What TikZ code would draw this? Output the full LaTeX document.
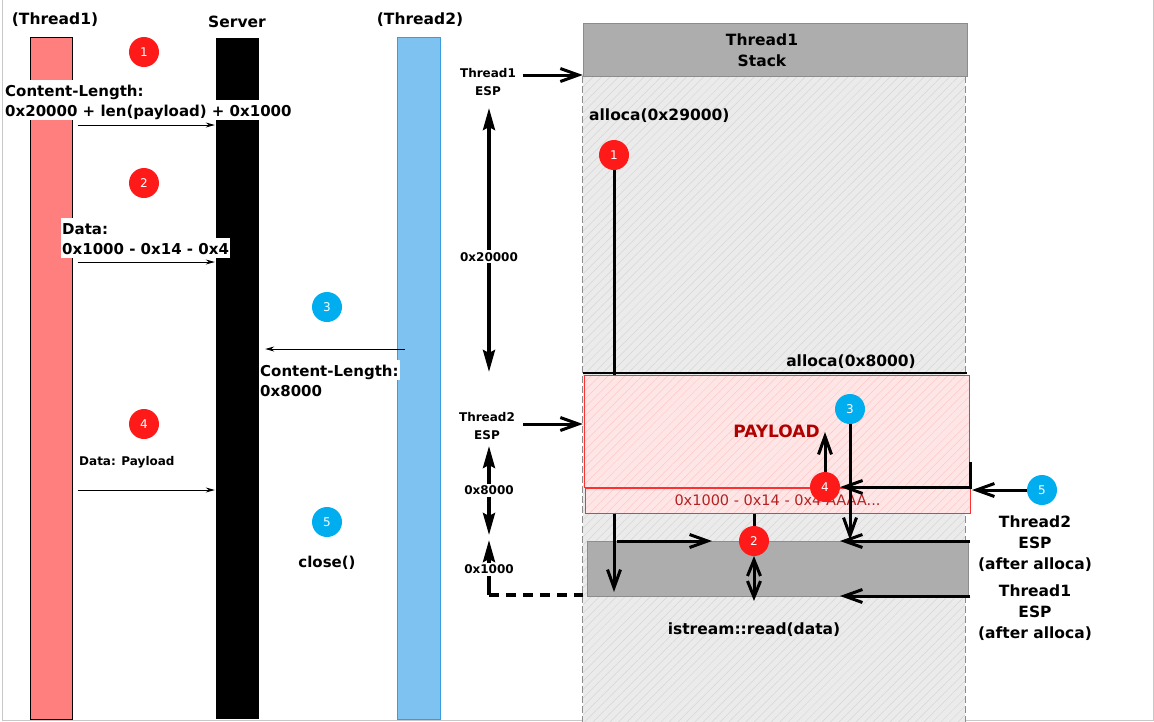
\documentclass[tikz,border=0pt]{standalone}
\usepackage{fontspec}
\setmainfont{DejaVu Sans}
\usetikzlibrary{arrows.meta,patterns.meta}
\definecolor{t1red}{HTML}{FF7F7F}
\definecolor{t2blue}{HTML}{7DC2F1}
\definecolor{t2border}{HTML}{3A9DDB}
\definecolor{circred}{HTML}{FF1A1A}
\definecolor{circblue}{HTML}{00AEEF}
\definecolor{hdrgray}{HTML}{ADADAD}
\definecolor{hdrborder}{HTML}{8C8C8C}
\definecolor{stackbg}{HTML}{EBEBEB}
\definecolor{hatchgray}{HTML}{D6D6D6}
\definecolor{pinkbg}{HTML}{FFE6E6}
\definecolor{pinkhatch}{HTML}{FFC6C6}
\definecolor{pinkborder}{HTML}{FF3030}
\definecolor{darkred}{HTML}{B00000}
\definecolor{aaared}{HTML}{B22222}
\definecolor{framegray}{HTML}{C8C8C8}
\setlength{\fboxsep}{0pt}
\newcommand\whitebg[1]{\colorbox{white}{\kern1pt\rule[-4pt]{0pt}{20pt}#1\kern1pt}}
\begin{document}
\begin{tikzpicture}[x=1pt,y=-1pt,
  bfbig/.style={font=\bfseries\fontsize{15}{20}\selectfont, inner sep=0pt},
  bfmid/.style={font=\bfseries\fontsize{15.5}{21}\selectfont, inner sep=0pt},
  bfsmall/.style={font=\bfseries\fontsize{12}{18}\selectfont, inner sep=0pt},
  redc/.style={circle, fill=circred, text=white, minimum size=30pt, inner sep=0pt, font=\fontsize{12}{14}\selectfont},
  bluec/.style={redc, fill=circblue},
  thinarr/.style={line width=1pt, -{Stealth[length=9pt,width=5pt]}},
  bigarr/.style={line width=3pt, -{Straight Barb[length=18pt,width=13pt]}},
  bigline/.style={line width=3pt},
  dimarr/.style={line width=3.5pt, {Stealth[length=22pt,width=12pt,inset=3pt]}-{Stealth[length=22pt,width=12pt,inset=3pt]}},
  hatched/.style={preaction={fill=stackbg}, pattern={Lines[angle=45,distance=6pt,line width=0.5pt]}, pattern color=hatchgray},
  pinkhatched/.style={preaction={fill=pinkbg}, pattern={Lines[angle=45,distance=6pt,line width=0.5pt]}, pattern color=pinkhatch},
  graybox/.style={rectangle, fill=hdrgray, draw=hdrborder, line width=1pt, inner sep=0pt}
]
\useasboundingbox (0,0) rectangle (1154,721);
% frame
\draw[framegray, line width=1pt] (2.5,0) -- (2.5,720) -- (1153,720) -- (1153,0);

% ---------- sequence part ----------
\node[rectangle, fill=t1red, draw=black, line width=1pt, minimum width=42pt, minimum height=682pt, inner sep=0pt] (t1) at (51,378) {};
\node[rectangle, fill=black, minimum width=43pt, minimum height=681pt, inner sep=0pt] (srv) at (237.5,378.5) {};
\node[rectangle, fill=t2blue, draw=t2border, line width=1pt, minimum width=43pt, minimum height=682pt, inner sep=0pt] (t2) at (418.5,378) {};

\node[bfmid] (h1) at (55,20) {(Thread1)};
\node[bfmid] (h2) at (237,22) {Server};
\node[bfmid] (h3) at (420,20) {(Thread2)};

\node[redc] (s1) at (144,52) {1};
\node[redc] (s2) at (144,183) {2};
\node[bluec] (s3) at (327,307) {3};
\node[redc] (s4) at (144,424) {4};
\node[bluec] (s5) at (327,522) {5};

\coordinate (m1) at (0,125);
\coordinate (m2) at (0,262);
\coordinate (m3) at (0,349);
\coordinate (m4) at (0,490);

\node[bfbig, anchor=north west, align=left] (l1) at (4,80) {\whitebg{Content-Length:}\\\whitebg{0x20000 + len(payload) + 0x1000}};
\node[bfbig, anchor=north west, align=left] (l2) at (61,218) {\whitebg{Data:}\\\whitebg{0x1000 - 0x14 - 0x4}};
\node[bfbig, anchor=north west, align=left] (l3) at (259,360) {\whitebg{Content-Length:}\\\whitebg{0x8000}};
\node[bfsmall, anchor=west] (l4) at (79,462) {Data: Payload};
\node[bfbig] (l5) at (327,563) {close()};

\draw[thinarr] ([xshift=5pt]t1.east |- m1) -- ([xshift=-1pt]srv.west |- m1);
\draw[thinarr] ([xshift=5pt]t1.east |- m2) -- ([xshift=-1pt]srv.west |- m2);
\draw[thinarr] ([xshift=8pt]t2.west |- m3) -- ([xshift=6pt]srv.east |- m3);
\draw[thinarr] ([xshift=5pt]t1.east |- m4) -- ([xshift=-1pt]srv.west |- m4);

% ---------- stack part ----------
\node[rectangle, hatched, inner sep=0pt, minimum width=382pt, minimum height=654pt] (stack) at (774,403) {};
\draw[hdrborder, line width=1pt, dash pattern=on 7pt off 3pt] (stack.north west) -- (stack.south west);
\draw[hdrborder, line width=1pt, dash pattern=on 7pt off 3pt] (stack.north east) -- (stack.south east);
\node[graybox, minimum width=384pt, minimum height=53pt] (hdr) at (775,49.5) {};
\node[bfmid, align=center] (hdrtxt) at (762,50) {Thread1\\Stack};

\node[graybox, minimum width=381pt, minimum height=55pt] (gb) at (777.5,568.5) {};

\node[bfmid, anchor=west] (al1) at (589,116) {alloca(0x29000)};
\draw[line width=2pt] (583,373) coordinate (bl) -- (967,373) coordinate (br);
\node[bfmid] (al2) at (851,362) {alloca(0x8000)};

\node[redc] (r1) at (614,155) {1};
\coordinate (r1end) at (614,592);
\draw[bigarr] (r1.south) -- (r1end);

\node[rectangle, pinkhatched, draw=pinkborder, line width=1pt, minimum width=385pt, minimum height=112pt, inner sep=0pt, text=darkred, font=\bfseries\fontsize{17}{20}\selectfont] (pay) at (776.5,431) {PAYLOAD};
\node[rectangle, pinkhatched, draw=pinkborder, line width=1pt, minimum width=385pt, minimum height=25pt, inner sep=0pt, text=aaared, font=\fontsize{14.5}{18}\selectfont] (aaa) at (777.5,500.5) {0x1000 - 0x14 - 0x4 AAAA...};

% ESP labels and dimension arrows
\node[bfsmall, align=center] (esp1) at (488,82) {Thread1\\ESP};
\node[bfsmall, align=center] (esp2) at (487,426) {Thread2\\ESP};
\coordinate (e1s) at (523,75);
\draw[bigarr] (e1s) -- (stack.west |- e1s);
\coordinate (e2s) at (523,424);
\draw[bigarr] (e2s) -- (stack.west |- e2s);

\coordinate (d1a) at (489,108);
\coordinate (d1b) at (489,372);
\draw[dimarr] (d1a) -- (d1b) node[pos=0.564, fill=white, bfsmall, inner sep=2pt] (dl1) {0x20000};
\coordinate (d2a) at (489,446);
\coordinate (d2b) at (489,535);
\draw[dimarr] (d2a) -- (d2b) node[midway, fill=white, bfsmall, inner sep=2pt] (dl2) {0x8000};
\coordinate (d3a) at (489,540);
\coordinate (d3b) at (489,595);
\draw[line width=3.5pt, {Stealth[length=22pt,width=12pt,inset=3pt]}-] (d3a) -- (d3b) node[pos=0.53, fill=white, bfsmall, inner sep=2pt] (dl3) {0x1000};
\draw[line width=3.5pt, dash pattern=on 10pt off 7pt] (d3b) -- (stack.west |- d3b);

% step 2
\node[redc] (r2) at (754,541) {2};
\draw[bigline] (aaa.south -| r2) -- (r2.north);
\draw[bigarr] (617,541) coordinate (a2s) -- (712,541) coordinate (a2e);
\draw[line width=3pt, {Straight Barb[length=16pt,width=13pt]}-{Straight Barb[length=16pt,width=13pt]}] (754,556) coordinate (rda) -- (754,601) coordinate (rdb);

% step 3
\node[bluec] (b3) at (850,409) {3};
\draw[bigarr] (b3.south) -- (850,540) coordinate (b3e);

% step 4
\node[redc] (r4) at (825,487) {4};
\draw[bigarr] (r4.north) -- (825,432) coordinate (r4e);
\draw[bigarr] (970,462) coordinate (c4a) -- (970,487) -- (r4.east);

% step 5
\node[bluec] (b5) at (1042,490) {5};
\draw[bigarr] (b5.west) -- (972,490) coordinate (b5e);

\node[bfmid, align=center] (t2after) at (1035,544) {Thread2\\ESP\\(after alloca)};
\node[bfmid, align=center] (t1after) at (1035,613) {Thread1\\ESP\\(after alloca)};
\draw[bigarr] (970,541) coordinate (p2s) -- (840,541) coordinate (p2e);
\draw[bigarr] (970,596) coordinate (p1s) -- (840,596) coordinate (p1e);

\node[bfmid] (rd) at (754,630) {istream::read(data)};
\end{tikzpicture}
\end{document}
